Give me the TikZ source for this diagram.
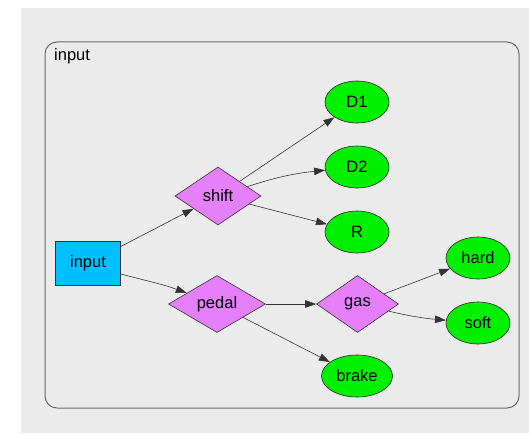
\documentclass[tikz,border=0pt]{standalone}
\usepackage{fontspec}
\setmainfont{Liberation Sans}
\usetikzlibrary{shapes.geometric,arrows.meta}
\definecolor{panelgray}{HTML}{EBEBEB}
\definecolor{clusterline}{HTML}{6A6A6A}
\definecolor{inputblue}{HTML}{00BFFF}
\definecolor{choiceviolet}{HTML}{E580FA}
\definecolor{leafgreen}{HTML}{00F000}
\tikzset{
  x=1pt, y=-1pt,
  every node/.style={font=\fontsize{16.5}{19}\selectfont, inner sep=0pt},
  inbox/.style={draw=black!80, line width=0.6pt, fill=inputblue,
    minimum width=65, minimum height=44},
  choice/.style={draw=black!80, line width=0.6pt, fill=choiceviolet,
    diamond, aspect=1.5},
  leaf/.style={draw=black!85, line width=0.6pt, fill=leafgreen,
    ellipse, minimum width=64, minimum height=42},
  edge/.style={draw=black!80, line width=0.6pt,
    -{Triangle[length=11pt,width=7.5pt]}},
}
\begin{document}
\begin{tikzpicture}
  \useasboundingbox (0,0) rectangle (529,433);
  % page background and cluster frame
  \fill[panelgray] (21,8) rectangle (529,433);
  \draw[clusterline, line width=1pt, rounded corners=12] (45,42) rectangle (519,408);
  \node[anchor=base west] (clabel) at (54,61) {input};

  % nodes
  \node[inbox] (input) at (88,263.5) {input};
  \node[choice, minimum width=86, minimum height=58] (shift) at (218,196) {shift};
  \node[choice, minimum width=97, minimum height=57] (pedal) at (217,304) {pedal};
  \node[choice, minimum width=82, minimum height=57] (gas) at (357.5,304) {gas};
  \node[leaf] (d1) at (357,102) {D1};
  \node[leaf] (d2) at (357,167) {D2};
  \node[leaf] (r) at (357,232) {R};
  \node[leaf] (hard) at (478,258) {hard};
  \node[leaf] (soft) at (478,323) {soft};
  \node[leaf, minimum width=71] (brake) at (357,376) {brake};

  % connectors
  \draw[edge] (input) -- (shift);
  \draw[edge] (input.east |- 0,274) to[out=-15,in=160] (pedal);
  \draw[edge] (shift) -- (d1);
  \draw[edge] (shift) to[bend left=6] (d2);
  \draw[edge] (shift) -- (r);
  \draw[edge] (pedal) -- (gas);
  \draw[edge] (pedal) -- (brake);
  \draw[edge] (gas) -- (hard);
  \draw[edge] (gas) to[bend right=4] (soft);
\end{tikzpicture}
\end{document}
